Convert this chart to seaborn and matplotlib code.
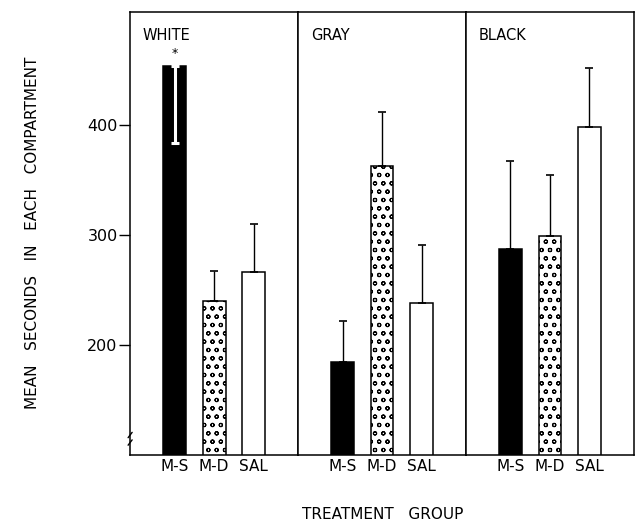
import matplotlib
matplotlib.use("Agg")
import matplotlib.pyplot as plt
import pandas as pd
import seaborn as sns

# values (seconds)
panels = ['WHITE', 'GRAY', 'BLACK']
groups = ['M-S', 'M-D', 'SAL']
white_mean = [453, 240, 266]
gray_mean = [184, 362, 238]
black_mean = [287, 299, 398]
white_err = [70, 27, 44]
gray_err = [38, 49, 53]
black_err = [80, 55, 53]
yticks = [200, 300, 400]

means = [white_mean, gray_mean, black_mean]
errs = [white_err, gray_err, black_err]

sns.set_style('white')
plt.rcParams['font.family'] = ['DejaVu Sans']
plt.rcParams['hatch.linewidth'] = 0.8
plt.rcParams['text.color'] = 'black'
plt.rcParams['xtick.color'] = 'black'
plt.rcParams['ytick.color'] = 'black'
plt.rcParams['axes.labelcolor'] = 'black'

fig, axes = plt.subplots(1, 3, sharey=True, figsize=(6.41, 5.29), dpi=100)
fig.subplots_adjust(left=0.203, right=0.989, bottom=0.140, top=0.977, wspace=0)

fills = ['black', 'white', 'white']
hatches = ['', 'oo', '']

for i, ax in enumerate(axes):
    df = pd.DataFrame({'group': groups, 'mean': means[i], 'err': errs[i]})
    sns.barplot(data=df, x='group', y='mean', ax=ax, width=0.58,
                color='white', edgecolor='black', linewidth=1.1)
    for bar, fc, h in zip(ax.patches, fills, hatches):
        bar.set_facecolor(fc)
        bar.set_hatch(h)
    for j, (m, e) in enumerate(zip(means[i], errs[i])):
        if i == 0 and j == 0:
            # error line drawn downward in white inside the black bar
            ax.errorbar(j, m, yerr=[[e], [0]], color='white', lw=2.2,
                        capsize=3, capthick=2.2)
            ax.text(j, m + 6, '*', ha='center', va='bottom', fontsize=9)
        else:
            ax.errorbar(j, m, yerr=[[0], [e]], color='black', lw=1,
                        capsize=3, capthick=1.2)
    ax.set_xlim(-1.125, 3.125)
    ax.set_ylim(100, 502)
    ax.set_xlabel('')
    ax.set_ylabel('')
    ax.tick_params(axis='x', length=0, labelsize=11, pad=3)
    ax.text(0.075, 0.965, panels[i], transform=ax.transAxes, ha='left',
            va='top', fontsize=10.5)
    for s in ax.spines.values():
        s.set_color('black')
        s.set_linewidth(1.1)

axes[0].set_yticks(yticks)
axes[0].tick_params(axis='y', direction='out', length=8, width=1,
                    labelsize=11.5, pad=1, left=True)
for ax in axes[1:]:
    ax.tick_params(axis='y', left=False)

# axis break mark near the bottom of the y axis
ax0 = axes[0]
for dy in (0.028, 0.045):
    ax0.plot([-0.012, 0.012], [dy - 0.006, dy + 0.006], transform=ax0.transAxes,
             color='black', lw=1, clip_on=False)

fig.text(0.05, 0.56, 'MEAN   SECONDS   IN   EACH   COMPARTMENT', rotation=90,
         ha='center', va='center', fontsize=11)
fig.text(0.597, 0.028, 'TREATMENT   GROUP', ha='center', va='center', fontsize=11)

fig.savefig('out.png', dpi=100)
